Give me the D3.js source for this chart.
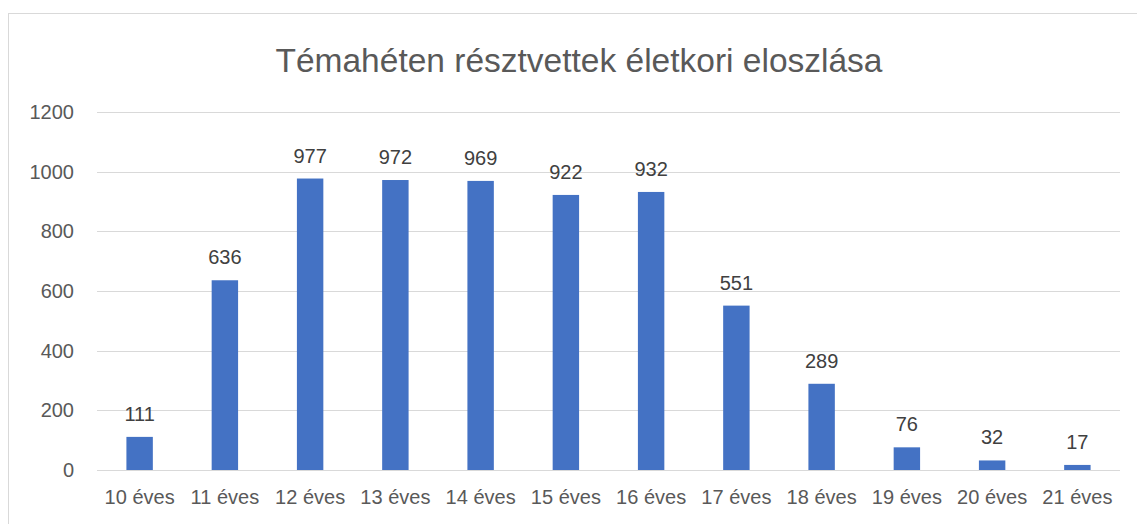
<!DOCTYPE html>
<html>
<head>
<meta charset="utf-8">
<script src="https://cdn.jsdelivr.net/npm/d3@7"></script>
<style>
  body { margin: 0; background: #fff; }
  text { font-family: "Liberation Sans", Arial, sans-serif; }
</style>
</head>
<body>
<div id="chart"></div>
<script>
// data
const categories = ["10 éves", "11 éves", "12 éves", "13 éves", "14 éves", "15 éves",
                    "16 éves", "17 éves", "18 éves", "19 éves", "20 éves", "21 éves"];
const values = [111, 636, 977, 972, 969, 922, 932, 551, 289, 76, 32, 17];
const yTicks = [0, 200, 400, 600, 800, 1000, 1200];
const title = "Témahéten résztvettek életkori eloszlása";

const width = 1137, height = 524;
const margin = {top: 112, right: 17, bottom: 54, left: 97};

const svg = d3.select("#chart").append("svg")
  .attr("width", width)
  .attr("height", height);

// chart frame
svg.append("rect")
  .attr("x", 8.5).attr("y", 13.5)
  .attr("width", 1140).attr("height", 530)
  .attr("fill", "#fff")
  .attr("stroke", "#d9d9d9");

const x = d3.scaleBand()
  .domain(categories)
  .range([margin.left, width - margin.right])
  .paddingInner(0.69)
  .paddingOuter(0.345);

const y = d3.scaleLinear()
  .domain([0, 1200])
  .range([height - margin.bottom, margin.top]);

// gridlines
svg.append("g")
  .selectAll("line")
  .data(yTicks)
  .enter().append("line")
  .attr("x1", margin.left)
  .attr("x2", width - margin.right)
  .attr("y1", d => Math.round(y(d)) + 0.5)
  .attr("y2", d => Math.round(y(d)) + 0.5)
  .attr("stroke", "#d9d9d9")
  .attr("stroke-width", 1);

// y axis labels
const yAxis = d3.axisLeft(y).tickValues(yTicks).tickFormat(d3.format("d")).tickSize(0).tickPadding(0);
svg.append("g")
  .attr("transform", "translate(74,0)")
  .call(yAxis)
  .call(g => g.select(".domain").remove())
  .selectAll("text")
  .attr("fill", "#595959")
  .style("font-size", "20px")
  .style("font-family", "'Liberation Sans', Arial, sans-serif");

// x axis labels
const xAxis = d3.axisBottom(x).tickSize(0).tickPadding(20);
svg.append("g")
  .attr("transform", `translate(0,${height - margin.bottom})`)
  .call(xAxis)
  .call(g => g.select(".domain").remove())
  .selectAll("text")
  .attr("fill", "#595959")
  .style("font-size", "20px")
  .style("font-family", "'Liberation Sans', Arial, sans-serif");

// bars
svg.append("g")
  .selectAll("rect")
  .data(values)
  .enter().append("rect")
  .attr("x", (d, i) => x(categories[i]))
  .attr("y", d => y(d))
  .attr("width", x.bandwidth())
  .attr("height", d => y(0) - y(d))
  .attr("fill", "#4472C4");

// data labels
svg.append("g")
  .selectAll("text")
  .data(values)
  .enter().append("text")
  .attr("x", (d, i) => x(categories[i]) + x.bandwidth() / 2)
  .attr("y", d => y(d) - 16)
  .attr("text-anchor", "middle")
  .attr("fill", "#404040")
  .style("font-size", "20px")
  .text(d => d);

// title
svg.append("text")
  .attr("x", 579)
  .attr("y", 72)
  .attr("text-anchor", "middle")
  .attr("fill", "#595959")
  .style("font-size", "33.5px")
  .text(title);
</script>
</body>
</html>
